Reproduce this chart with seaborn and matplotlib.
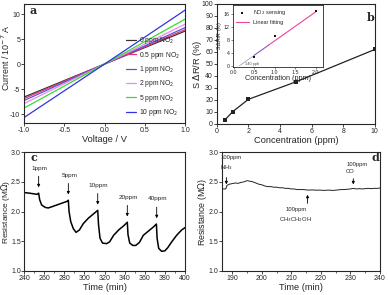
import numpy as np
import pandas as pd
import matplotlib
matplotlib.use("Agg")
import matplotlib.pyplot as plt
from matplotlib.ticker import MultipleLocator
import seaborn as sns

sns.set_style("ticks")
plt.rcParams['font.family'] = ['Liberation Sans', 'DejaVu Sans']
plt.rcParams['mathtext.fontset'] = 'dejavusans'
plt.rcParams['axes.unicode_minus'] = False

# (a) I-V curves
voltage = [-1.0, -0.5, 0.0, 0.5, 1.0]
iv_labels = ["0 ppm NO$_2$", "0.5 ppm NO$_2$", "1 ppm NO$_2$",
             "2 ppm NO$_2$", "5 ppm NO$_2$", "10 ppm NO$_2$"]
current_0 = [-6.6, -3.3, 0.0, 3.3, 6.6]
current_05 = [-6.9, -3.45, 0.0, 3.45, 6.9]
current_1 = [-7.3, -3.65, 0.0, 3.65, 7.3]
current_2 = [-7.9, -3.95, 0.0, 4.0, 8.0]
current_5 = [-8.8, -4.4, 0.0, 4.5, 9.0]
current_10 = [-10.7, -5.35, 0.0, 5.4, 10.8]
iv_colors = ["#333333", "#e8336e", "#5555dd", "#ee88ee", "#33dd33", "#3333dd"]

# (b) response vs concentration
conc = [0.5, 1, 2, 5, 10]
response = [3.2, 10.2, 20.5, 35.0, 62.0]
inset_conc = [0.5, 1.0, 2.0]
inset_resp = [2.7, 9.2, 16.8]
fit_x = [0.14, 0.5, 0.85, 2.0]
fit_y = [0.0, 3.2, 6.3, 16.5]

# (c) dynamic response
t_c = [240, 245, 249, 253, 254.5, 255.5, 257.5, 261, 264, 267.5, 272.5, 277.5, 282.5, 284,
       284.7, 286.4, 289, 291.7, 295, 299, 304, 309, 313.2,
       314, 315.5, 318, 322, 325, 329, 334, 339, 342.6,
       343.3, 345, 348, 351, 354.6, 358.5, 363.5, 368.5, 371.5,
       372.2, 373.8, 376.8, 380, 382.7, 386.7, 391.6, 396.6, 400]
r_c = [2.32, 2.31, 2.30, 2.29, 2.31, 2.20, 2.11, 2.07, 2.06, 2.08, 2.11, 2.14, 2.17, 2.19,
       2.00, 1.83, 1.71, 1.65, 1.69, 1.80, 1.89, 1.96, 2.02,
       1.78, 1.55, 1.47, 1.46, 1.49, 1.60, 1.69, 1.76, 1.82,
       1.61, 1.47, 1.43, 1.43, 1.48, 1.60, 1.67, 1.74, 1.79,
       1.55, 1.38, 1.33, 1.34, 1.39, 1.49, 1.60, 1.69, 1.73]
c_events = [254.5, 284, 313.2, 342.6, 371.8]
c_event_r = [2.31, 2.19, 2.02, 1.82, 1.79]
c_event_labels = ["1ppm", "5ppm", "10ppm", "20ppm", "40ppm"]

# (d) selectivity
t_d = [186.5, 187, 187.8, 188.2, 189, 190, 191, 192, 193, 194, 195, 196, 197, 198, 199,
       200, 201, 202, 203, 204, 205, 206, 207, 208, 209, 210, 211, 212, 213, 214,
       215, 216, 217, 218, 219, 220, 221, 222, 223, 224, 225, 226, 227, 228, 229,
       230, 231, 232, 233, 234, 235, 236, 237, 238, 239, 240]
r_d = [2.38, 2.38, 2.38, 2.44, 2.46, 2.47, 2.48, 2.475, 2.49, 2.50, 2.52, 2.51, 2.50, 2.48, 2.46,
       2.45, 2.43, 2.42, 2.42, 2.41, 2.41, 2.40, 2.40, 2.39, 2.39, 2.38, 2.38, 2.37, 2.37, 2.37,
       2.365, 2.36, 2.365, 2.36, 2.36, 2.36, 2.355, 2.36, 2.36, 2.355, 2.36, 2.365, 2.37, 2.37, 2.375,
       2.38, 2.39, 2.38, 2.385, 2.38, 2.385, 2.39, 2.385, 2.39, 2.39, 2.395]

fig = plt.figure(figsize=(3.88, 2.95), dpi=100)
ax_a = fig.add_axes([0.062, 0.583, 0.415, 0.403])
ax_b = fig.add_axes([0.559, 0.580, 0.407, 0.407])
ax_in = fig.add_axes([0.6005, 0.773, 0.232, 0.211])
ax_c = fig.add_axes([0.062, 0.0814, 0.415, 0.403])
ax_d = fig.add_axes([0.572, 0.0814, 0.407, 0.403])

tick_fs = 5.0
lab_fs = 6.4

# ---- panel a
currents = [current_0, current_05, current_1, current_2, current_5, current_10]
iv_df = pd.DataFrame({
    "V": voltage * len(iv_labels),
    "I": sum(currents, []),
    "gas": np.repeat(iv_labels, len(voltage)),
})
sns.lineplot(data=iv_df, x="V", y="I", hue="gas", palette=iv_colors, lw=0.9, ax=ax_a)
ax_a.set_xlim(-1, 1)
ax_a.set_ylim(-11.8, 12)
ax_a.set_xticks([-1.0, -0.5, 0.0, 0.5, 1.0])
ax_a.set_yticks([-10, -5, 0, 5, 10])
ax_a.set_xlabel("Voltage / V", fontsize=lab_fs + 0.3, labelpad=1)
ax_a.set_ylabel("Current / 10$^{-7}$ A", fontsize=lab_fs)
ax_a.yaxis.set_label_coords(-0.072, 0.55)
ax_a.legend(loc="lower right", frameon=False, fontsize=4.9, handlelength=1.5,
            labelspacing=0.5, handletextpad=0.5, borderaxespad=0.3)
ax_a.text(0.055, 0.95, "a", transform=ax_a.transAxes, fontsize=8, fontweight="bold",
          family="DejaVu Serif", ha="center", va="center")

# ---- panel b
sns.lineplot(x=conc, y=response, marker="s", markersize=3, color="#222222", lw=0.9,
             markeredgewidth=0, ax=ax_b)
ax_b.set_xlim(0, 10)
ax_b.set_ylim(0, 100)
ax_b.set_xticks([0, 2, 4, 6, 8, 10])
ax_b.set_yticks(range(0, 101, 10))
ax_b.set_xlabel("Concentration (ppm)", fontsize=lab_fs + 0.3, labelpad=1)
ax_b.set_ylabel("S $\\Delta$R/R (%)", fontsize=lab_fs + 0.3)
ax_b.yaxis.set_label_coords(-0.08, 0.5)
ax_b.text(0.975, 0.89, "b", transform=ax_b.transAxes, fontsize=8, fontweight="bold",
          family="DejaVu Serif", ha="center", va="center")

# inset
ax_in.plot(fit_x[:2], fit_y[:2], color="#8899aa", lw=0.5)
ax_in.plot(fit_x[1:3], fit_y[1:3], color="#8855cc", lw=0.8)
ax_in.plot(fit_x[2:], fit_y[2:], color="#ee4499", lw=0.8, label="Linear fitting")
sns.scatterplot(x=inset_conc, y=inset_resp, marker="s", s=4, color="#111111",
                linewidth=0, ax=ax_in, label="NO$_2$ sensing", zorder=5)
ax_in.set_xlim(-0.02, 2.18)
ax_in.set_ylim(-0.4, 18.7)
ax_in.set_xticks([0.0, 0.5, 1.0, 1.5, 2.0])
ax_in.set_yticks([0, 4, 8, 12, 16])
ax_in.tick_params(labelsize=3.8, length=1.5, width=0.4, pad=0.8)
ax_in.set_xlabel("Concentration (ppm)", fontsize=5.2, labelpad=0)
ax_in.set_ylabel("S $\\Delta$R/R (%)", fontsize=3.8, labelpad=0)
ax_in.text(0.28, 0.3, "140 ppb", fontsize=2.8, color="#555555")
h, l = ax_in.get_legend_handles_labels()
ax_in.legend(h[::-1], l[::-1], loc="upper left", frameon=False, fontsize=4.0,
             handlelength=2.2, labelspacing=0.5, borderaxespad=0.2)
for sp in ax_in.spines.values():
    sp.set_linewidth(0.6)

# ---- panel c
sns.lineplot(x=t_c, y=r_c, color="black", lw=1.1, ax=ax_c)
for t, r, lab in zip(c_events, c_event_r, c_event_labels):
    ax_c.annotate("", xy=(t, r + 0.05), xytext=(t, r + 0.33),
                  arrowprops=dict(arrowstyle="-|>", lw=0.6, color="k",
                                  mutation_scale=4))
    ax_c.text(t + 1, r + 0.38, lab, fontsize=4.6, ha="center", va="bottom")
ax_c.set_xlim(240, 400)
ax_c.set_ylim(1.0, 3.0)
ax_c.set_xticks(range(240, 401, 20))
ax_c.xaxis.set_minor_locator(MultipleLocator(10))
ax_c.set_yticks([1.0, 1.5, 2.0, 2.5, 3.0])
ax_c.set_xlabel("Time (min)", fontsize=lab_fs + 0.3, labelpad=1)
ax_c.set_ylabel("Resistance (M$\\Omega$)", fontsize=6.0)
ax_c.yaxis.set_label_coords(-0.077, 0.5)
ax_c.text(0.06, 0.955, "c", transform=ax_c.transAxes, fontsize=8, fontweight="bold",
          family="DejaVu Serif", ha="center", va="center")

# ---- panel d
sns.lineplot(x=t_d, y=r_d, color="#222222", lw=0.7, ax=ax_d)
ax_d.annotate("", xy=(188.0, 2.41), xytext=(188.0, 2.62),
              arrowprops=dict(arrowstyle="-|>", lw=0.6, color="k", mutation_scale=4))
ax_d.text(186.0, 2.66, "100ppm\nNH$_3$", fontsize=4.2, ha="left", va="bottom",
          linespacing=1.5)
ax_d.annotate("", xy=(215.5, 2.33), xytext=(215.5, 2.09),
              arrowprops=dict(arrowstyle="-|>", lw=0.6, color="k", mutation_scale=4))
ax_d.text(211.5, 2.07, "100ppm\nCH$_3$CH$_2$OH", fontsize=4.2, ha="center", va="top",
          linespacing=1.5)
ax_d.annotate("", xy=(231.0, 2.41), xytext=(231.0, 2.60),
              arrowprops=dict(arrowstyle="-|>", lw=0.6, color="k", mutation_scale=4))
ax_d.text(228.6, 2.63, "100ppm\nCO", fontsize=4.2, ha="left", va="bottom",
          linespacing=1.5)
ax_d.set_xlim(186.5, 240)
ax_d.set_ylim(1.0, 3.0)
ax_d.set_xticks(range(190, 241, 10))
ax_d.xaxis.set_minor_locator(MultipleLocator(5))
ax_d.set_yticks([1.0, 1.5, 2.0, 2.5, 3.0])
ax_d.set_xlabel("Time (min)", fontsize=lab_fs + 0.3, labelpad=1)
ax_d.set_ylabel("Resistance (M$\\Omega$)", fontsize=lab_fs)
ax_d.yaxis.set_label_coords(-0.085, 0.5)
ax_d.text(0.97, 0.955, "d", transform=ax_d.transAxes, fontsize=8, fontweight="bold",
          family="DejaVu Serif", ha="center", va="center")

for ax in [ax_a, ax_b, ax_c, ax_d]:
    ax.tick_params(labelsize=tick_fs, length=2, width=0.6, pad=0.8)
    ax.tick_params(which="minor", length=1.2, width=0.5)
    for sp in ax.spines.values():
        sp.set_linewidth(0.8)
        sp.set_visible(True)
ax_c.tick_params(axis="y", pad=0.3)

fig.savefig("out.png", dpi=100)
